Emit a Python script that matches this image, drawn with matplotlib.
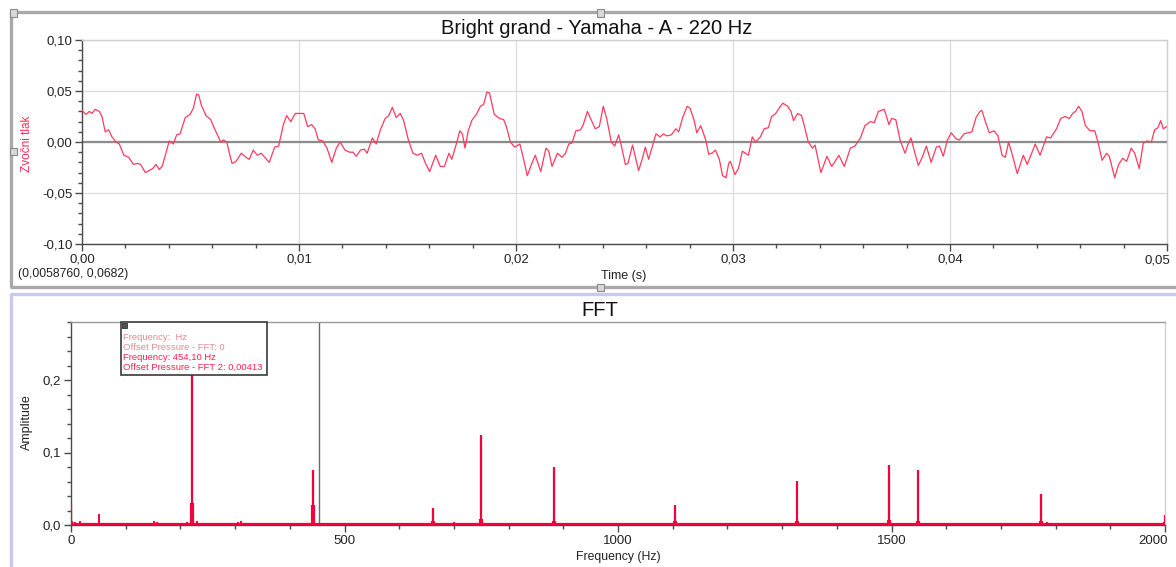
import matplotlib
matplotlib.use("Agg")
import matplotlib.pyplot as plt
from matplotlib.ticker import MultipleLocator, FuncFormatter
from matplotlib.patches import Rectangle
from matplotlib.lines import Line2D

plt.rcParams['font.family'] = ['Liberation Sans', 'DejaVu Sans']

# sound pressure trace (time in ms, pressure)
time_ms = [0.00, 0.18, 0.34, 0.46, 0.61, 0.80, 0.92, 1.07, 1.23, 1.38, 1.57, 1.72, 1.93, 2.15, 2.37, 2.55,
           2.70, 2.92, 3.10, 3.26, 3.41, 3.56, 3.69, 3.84, 4.02, 4.21, 4.36, 4.52, 4.76, 4.98, 5.13, 5.28,
           5.38, 5.50, 5.71, 5.93, 6.11, 6.30, 6.39, 6.51, 6.67, 6.91, 7.10, 7.34, 7.56, 7.71, 7.89, 8.08,
           8.26, 8.42, 8.63, 8.88, 9.06, 9.28, 9.43, 9.62, 9.83, 9.98,
           10.22, 10.40, 10.58, 10.74, 10.89, 11.10, 11.29, 11.51, 11.72, 11.90, 12.12, 12.33, 12.49, 12.64,
           12.83, 13.01, 13.14, 13.38, 13.56, 13.75, 13.97, 14.14, 14.30, 14.48, 14.67, 14.82, 15.04, 15.25,
           15.44, 15.65, 15.83, 16.02, 16.30, 16.51, 16.70, 16.91, 17.04, 17.25, 17.41, 17.53, 17.65, 17.80,
           17.96, 18.20, 18.36, 18.51, 18.66, 18.78, 19.00, 19.25, 19.43, 19.56, 19.74,
           19.94, 20.18, 20.34, 20.52, 20.71, 20.89, 21.14, 21.38, 21.51, 21.66, 21.91, 22.12, 22.28, 22.43,
           22.58, 22.76, 22.98, 23.10, 23.29, 23.44, 23.65, 23.84, 24.02, 24.18, 24.39, 24.55, 24.73, 24.88,
           25.04, 25.16, 25.37, 25.65, 25.84, 25.96, 26.11, 26.45, 26.64, 26.79, 26.95, 27.16, 27.37, 27.50,
           27.68, 27.89, 28.02, 28.20, 28.33, 28.51, 28.73, 28.88, 29.03, 29.19, 29.37, 29.52, 29.68, 29.80,
           29.88, 30.09, 30.25, 30.43, 30.71, 30.89, 31.04, 31.26, 31.44, 31.63, 31.78, 31.97, 32.15, 32.30,
           32.52, 32.67, 32.79, 32.98, 33.16, 33.32, 33.47, 33.66, 33.78, 34.05, 34.33, 34.55, 34.88, 35.13,
           35.41, 35.62, 35.87, 36.08, 36.33, 36.51, 36.70, 36.97, 37.19, 37.31, 37.50, 37.71, 37.93, 38.05,
           38.20, 38.36, 38.54, 38.72, 38.91, 39.13, 39.37, 39.52,
           39.69, 39.88, 40.06, 40.28, 40.43, 40.65, 40.83, 41.01, 41.20, 41.38, 41.47, 41.63, 41.81, 42.03,
           42.21, 42.40, 42.55, 42.70, 42.89, 43.10, 43.38, 43.56, 43.93, 44.15, 44.45, 44.64, 44.91, 45.10,
           45.31, 45.50, 45.65, 45.78, 45.93, 46.08, 46.24, 46.45, 46.67, 46.82, 47.01, 47.22, 47.34, 47.59,
           47.77, 47.96, 48.14, 48.35, 48.51, 48.72, 48.91, 49.09, 49.28, 49.43, 49.58, 49.71, 49.83, 49.98]
pressure = [0.031, 0.027, 0.030, 0.028, 0.032, 0.030, 0.025, 0.010, 0.012, 0.005, 0.000, -0.002, -0.013, -0.015, -0.022, -0.021,
            -0.022, -0.030, -0.028, -0.026, -0.022, -0.027, -0.024, -0.013, 0.001, -0.002, 0.007, 0.008, 0.024, 0.027, 0.033, 0.047,
            0.046, 0.036, 0.026, 0.022, 0.013, 0.004, 0.000, 0.002, 0.000, -0.021, -0.019, -0.011, -0.015, -0.017, -0.008, -0.013,
            -0.011, -0.015, -0.020, -0.005, -0.004, 0.017, 0.026, 0.020, 0.028, 0.028,
            0.028, 0.015, 0.017, 0.013, 0.002, 0.001, -0.006, -0.020, -0.006, 0.000, -0.008, -0.010, -0.010, -0.014,
            -0.008, -0.007, -0.011, 0.004, -0.002, 0.012, 0.023, 0.026, 0.034, 0.024, 0.028, 0.021, 0.002, -0.011,
            -0.013, -0.011, -0.021, -0.029, -0.013, -0.024, -0.024, -0.011, -0.017, -0.002, 0.011, 0.008, -0.006, 0.011,
            0.021, 0.028, 0.035, 0.037, 0.049, 0.048, 0.027, 0.023, 0.022, 0.015, 0.000,
            -0.005, -0.002, -0.016, -0.033, -0.022, -0.013, -0.029, -0.006, -0.009, -0.024, -0.011, -0.015, -0.011, -0.002,
            -0.001, 0.011, 0.012, 0.017, 0.030, 0.023, 0.013, 0.015, 0.035, 0.023, 0.000, -0.004, 0.007, -0.006,
            -0.022, -0.021, -0.003, -0.028, -0.015, -0.005, -0.017, 0.008, 0.005, 0.008, 0.006, 0.007, 0.013, 0.010,
            0.024, 0.035, 0.033, 0.022, 0.009, 0.016, 0.003, -0.012, -0.011, -0.008, -0.017, -0.033, -0.035, -0.021,
            -0.019, -0.032, -0.026, -0.009, -0.013, 0.005, 0.000, 0.005, 0.013, 0.014, 0.025, 0.028, 0.034, 0.038,
            0.035, 0.030, 0.021, 0.028, 0.026, 0.013, 0.000, -0.006, -0.003, -0.030, -0.014, -0.024, -0.013, -0.024,
            -0.006, -0.004, 0.004, 0.016, 0.020, 0.019, 0.030, 0.032, 0.017, 0.023, 0.022, 0.001, -0.011, -0.003,
            0.004, -0.009, -0.023, -0.015, -0.004, -0.020, -0.005, -0.004,
            -0.014, 0.002, 0.009, 0.003, 0.002, 0.008, 0.009, 0.010, 0.024, 0.030, 0.031, 0.020, 0.009, 0.011,
            0.006, -0.013, -0.015, 0.000, -0.014, -0.031, -0.013, -0.022, -0.002, -0.013, 0.005, 0.004, 0.013, 0.023,
            0.025, 0.023, 0.028, 0.030, 0.035, 0.030, 0.016, 0.011, 0.011, 0.000, -0.018, -0.011, -0.014, -0.035,
            -0.022, -0.016, -0.019, -0.006, -0.011, -0.026, -0.001, 0.001, 0.000, 0.012, 0.014, 0.021, 0.013, 0.015]

# FFT spectrum: harmonic peaks, small side bumps and the noise floor
peak_freq = [0, 221, 442, 662, 750, 883, 1104, 1327, 1495, 1548, 1773, 2000]
peak_amp = [0.027, 0.25, 0.076, 0.023, 0.124, 0.080, 0.028, 0.061, 0.083, 0.076, 0.043, 0.014]
peak_base = [0.006, 0.030, 0.028, 0.006, 0.008, 0.006, 0.006, 0.006, 0.007, 0.006, 0.006, 0.004]
bump_freq = [8, 17, 52, 100, 152, 157, 200, 212, 230, 238, 305, 310, 450, 688, 700, 705, 1160, 1775, 1785]
bump_amp = [0.004, 0.006, 0.015, 0.002, 0.006, 0.004, 0.003, 0.004, 0.005, 0.003, 0.004, 0.005, 0.003, 0.003, 0.004, 0.003, 0.002, 0.005, 0.004]
noise_floor = 0.0012
cursor_freq = 454.10

readout = "(0,0058760, 0,0682)"
box_lines = ["Frequency:  Hz", "Offset Pressure - FFT: 0",
             "Frequency: 454,10 Hz", "Offset Pressure - FFT 2: 0,00413"]

W, H = 1176, 567
fig = plt.figure(figsize=(W / 100, H / 100), dpi=100)


def fx(x):
    return x / W


def fy(y):
    return 1 - y / H


def comma(fmt, skip=None):
    # decimal comma labels; the label at `skip` is drawn separately
    def f(v, pos):
        if skip is not None and abs(v - skip) < 1e-9:
            return ''
        if abs(v) < 1e-9:
            v = 0.0
        return format(v, fmt).replace('.', ',')
    return FuncFormatter(f)


def frame_line(x0, y0, x1, y1, color, lw):
    fig.add_artist(Line2D([fx(x0), fx(x1)], [fy(y0), fy(y1)], color=color, lw=lw,
                          transform=fig.transFigure, solid_capstyle='butt'))


def handle(x, y):
    fig.add_artist(Rectangle((fx(x - 3.5), fy(y + 3.5)), 7 / W, 7 / H, transform=fig.transFigure,
                             facecolor='#d8d8d8', edgecolor='#8a8a8a', lw=0.8, zorder=5))


def edge_label(ax, x, text):
    # right-aligned tick label at the far end of the x axis
    ax.annotate(text, xy=(x, 0), xycoords=('data', 'axes fraction'), xytext=(2, -7.4),
                textcoords='offset points', ha='right', va='top', fontsize=9.5, color='#222222',
                annotation_clip=False)


# panel frames
frame_line(10, 12, W, 12, '#a9a9a9', 2.4)
frame_line(11, 12, 11, 287, '#a9a9a9', 2.4)
frame_line(10, 287, W, 287, '#a9a9a9', 2.4)
frame_line(10, 294, W, 294, '#c9c9ef', 2.4)
frame_line(11, 294, 11, H, '#c9c9ef', 2.4)
for hx, hy in [(13, 13), (13, 151), (600, 13), (600, 287)]:
    handle(hx, hy)

dark = '#4a4a4a'
light = '#d0d0d0'

# ---- top: pressure vs time ----
ax1 = fig.add_axes([fx(82), fy(244), fx(1167) - fx(82), fy(40) - fy(244)])
ax1.plot([t / 1000 for t in time_ms], pressure, color='#ff3a5e', lw=0.9, zorder=3)
ax1.axhline(0, color='#8c8c8c', lw=1.6, zorder=2)
ax1.set_xlim(0, 0.05)
ax1.set_ylim(-0.10, 0.10)
ax1.xaxis.set_major_locator(MultipleLocator(0.01))
ax1.xaxis.set_minor_locator(MultipleLocator(0.002))
ax1.yaxis.set_major_locator(MultipleLocator(0.05))
ax1.yaxis.set_minor_locator(MultipleLocator(0.01))
ax1.xaxis.set_major_formatter(comma('.2f', skip=0.05))
ax1.yaxis.set_major_formatter(comma('.2f'))
ax1.grid(True, which='major', color='#dcdcdc', lw=0.9)
ax1.set_axisbelow(True)
edge_label(ax1, 0.05, "0,05")

# ---- bottom: FFT ----
ax2 = fig.add_axes([fx(71), fy(525), fx(1165) - fx(71), fy(322) - fy(525)])
red = '#f3003d'
ax2.plot([0, 2000], [noise_floor, noise_floor], color=red, lw=1.6, zorder=3)
ax2.vlines(peak_freq, 0, peak_base, color=red, lw=3.0, zorder=3)
ax2.vlines(peak_freq, 0, peak_amp, color=red, lw=1.6, zorder=3)
ax2.vlines(bump_freq, 0, bump_amp, color=red, lw=1.4, zorder=3)
ax2.axvline(cursor_freq, color='#6a6a6a', lw=1.0, zorder=2)
ax2.set_xlim(0, 2000)
ax2.set_ylim(0, 0.28)
ax2.xaxis.set_major_locator(MultipleLocator(500))
ax2.xaxis.set_minor_locator(MultipleLocator(100))
ax2.yaxis.set_major_locator(MultipleLocator(0.1))
ax2.yaxis.set_minor_locator(MultipleLocator(0.02))
ax2.xaxis.set_major_formatter(comma('.0f', skip=2000))
ax2.yaxis.set_major_formatter(comma('.1f'))
edge_label(ax2, 2000, "2000")

for ax in (ax1, ax2):
    ax.spines['left'].set_color(dark)
    ax.spines['bottom'].set_color(dark)
    ax.spines['top'].set_color('#9a9a9a' if ax is ax2 else light)
    ax.spines['right'].set_color(light)
    for s in ax.spines.values():
        s.set_linewidth(1.0)
    ax.tick_params(which='major', direction='out', length=5, width=1, color=dark,
                   labelsize=9.5, labelcolor='#222222', pad=2)
    ax.tick_params(which='minor', direction='out', length=3, width=1, color=dark)

# titles
fig.text(fx(597), fy(28), "Bright grand - Yamaha - A - 220 Hz", ha='center', va='center',
         fontsize=14.5, color='#111111')
fig.text(fx(600), fy(310), "FFT", ha='center', va='center', fontsize=14.5, color='#111111')

# axis labels
fig.text(fx(27), fy(144), "Zvočni tlak", rotation=90, ha='center', va='center', fontsize=8.5, color='#ff2a55')
fig.text(fx(624), fy(276), "Time (s)", ha='center', va='center', fontsize=9, color='#222222')
fig.text(fx(27), fy(422), "Amplitude", rotation=90, ha='center', va='center', fontsize=9, color='#222222')
fig.text(fx(618), fy(557), "Frequency (Hz)", ha='center', va='center', fontsize=8.8, color='#222222')
fig.text(fx(18), fy(274), readout, ha='left', va='center', fontsize=8.8, color='#222222')

# cursor readout box
box = Rectangle((fx(121), fy(375)), (267 - 121) / W, (375 - 322) / H, transform=fig.transFigure,
                facecolor='white', edgecolor='#3a3a3a', lw=1.2, zorder=6)
fig.add_artist(box)
fig.add_artist(Rectangle((fx(122), fy(328)), 5 / W, 5 / H, transform=fig.transFigure,
                         facecolor='#505050', edgecolor='#303030', lw=0.6, zorder=7))
box_colors = ['#e58a92', '#e58a92', '#ff2050', '#ff2050']
for i, (line, c) in enumerate(zip(box_lines, box_colors)):
    fig.text(fx(123), fy(337 + 10 * i), line, ha='left', va='center', fontsize=6.8, color=c, zorder=8)

fig.savefig("out.png", dpi=100)
